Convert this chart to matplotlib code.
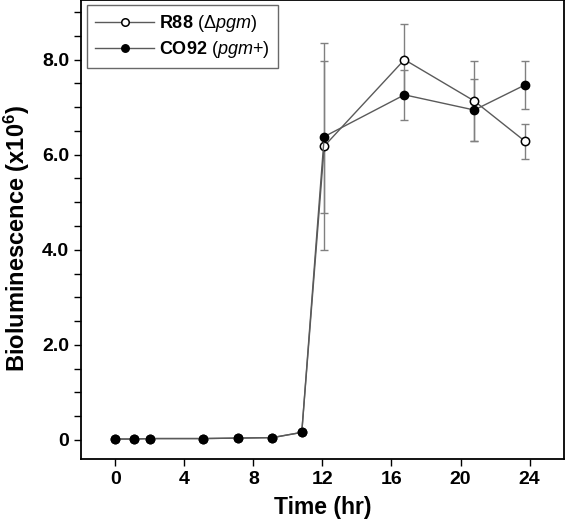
import matplotlib
matplotlib.use("Agg")
import matplotlib.pyplot as plt
from matplotlib.ticker import MultipleLocator

plt.rcParams['font.family'] = ['Liberation Sans', 'DejaVu Sans']
plt.rcParams['mathtext.fontset'] = 'custom'
plt.rcParams['mathtext.rm'] = 'Liberation Sans'
plt.rcParams['mathtext.it'] = 'Liberation Sans:italic'
plt.rcParams['mathtext.bf'] = 'Liberation Sans:bold'

# time points (hr)
time_early = [0, 1.1, 2.0, 5.05, 7.1, 9.1, 10.8]
time_late = [12.1, 16.75, 20.8, 23.75]

# bioluminescence (x10^6)
co92_early = [0.02, 0.02, 0.03, 0.03, 0.04, 0.05, 0.16]
co92_late = [6.38, 7.26, 6.94, 7.47]
co92_err = [1.6, 0.52, 0.65, 0.5]

r88_early = [0.02, 0.02, 0.03, 0.03, 0.04, 0.05, 0.16]
r88_late = [6.18, 8.0, 7.13, 6.28]
r88_err = [2.18, 0.75, 0.85, 0.36]

fig = plt.figure(figsize=(5.66, 5.19), dpi=100)
ax = fig.add_axes([0.143, 0.1156, 0.8535, 0.884])

line_c = '#5a5a5a'
err_c = '#808080'

t_all = time_early + time_late
ax.errorbar(time_late, r88_late, yerr=r88_err, fmt='none', ecolor=err_c,
            elinewidth=1.0, capsize=3, capthick=1.0, zorder=1)
ax.errorbar(time_late, co92_late, yerr=co92_err, fmt='none', ecolor=err_c,
            elinewidth=1.0, capsize=3, capthick=1.0, zorder=1)
ax.plot(t_all, r88_early + r88_late, '-o', color=line_c, lw=1.0,
        mfc='white', mec='black', mew=1.1, ms=6, zorder=3,
        label=r"$\mathbf{R88}$ ($\Delta\mathit{pgm}$)")
ax.plot(t_all, co92_early + co92_late, '-o', color=line_c, lw=1.0,
        mfc='black', mec='black', ms=6, zorder=4,
        label=r"$\mathbf{CO92}$ ($\mathit{pgm}$+)")

ax.set_xlim(-2, 26)
ax.set_ylim(-0.4, 9.25)
ax.set_xticks([0, 4, 8, 12, 16, 20, 24])
ax.set_yticks([0, 2, 4, 6, 8])
ax.set_yticklabels(['0', '2.0', '4.0', '6.0', '8.0'])
ax.yaxis.set_minor_locator(MultipleLocator(0.5))
ax.tick_params(axis='both', which='major', direction='out', length=5,
               width=1.0, labelsize=14)
ax.tick_params(axis='y', which='minor', direction='out', length=5, width=1.0)
for lab in ax.get_xticklabels() + ax.get_yticklabels():
    lab.set_fontweight('bold')
for s in ax.spines.values():
    s.set_linewidth(1.3)

ax.set_xlabel('Time (hr)', fontsize=16.5, fontweight='bold', labelpad=6)
ax.set_ylabel(r'Bioluminescence (x10$^\mathbf{6}$)', fontsize=17,
              fontweight='bold')
ax.yaxis.set_label_coords(-0.102, 0.48)

leg = ax.legend(loc='upper left', fontsize=13, frameon=True, fancybox=False,
                edgecolor='#444444', handlelength=3.3, handletextpad=0.25,
                borderpad=0.45, labelspacing=0.3, borderaxespad=0,
                bbox_to_anchor=(0.012, 0.99), markerscale=0.9)
leg.get_frame().set_linewidth(1.0)

fig.savefig('out.png', dpi=100)
